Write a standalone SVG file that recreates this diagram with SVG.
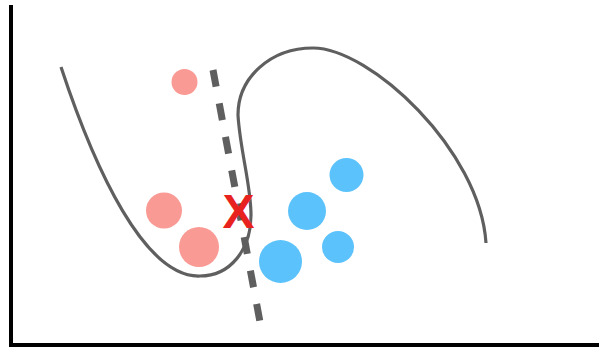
<svg xmlns="http://www.w3.org/2000/svg" width="599" height="352" viewBox="0 0 599 352">
<style>
.axis{stroke:#000;stroke-width:4;fill:none}
.curve{stroke:#5f5f5f;stroke-width:3.2;fill:none;stroke-linecap:butt}
.dash{stroke:#5f5f5f;stroke-width:7;fill:none;stroke-dasharray:17 17}
.pink{fill:#fa9a94}
.blue{fill:#5bc2fc}
.x{font-family:"Liberation Sans",Arial,sans-serif;font-weight:bold;font-size:48px;fill:#e8221e}
</style>
<rect width="599" height="352" fill="#fff"/>
<g id="axes">
<path class="axis" d="M11,5 V345 H599"/>
</g>
<g id="connectors">
<path class="curve" d="M61,67 C95,170 145,278 200,276 C230,276 251,250 251,215 C251,185 240,150 238,115 C238,78 270,48 313,48 C370,48 480,150 486,243"/>
<line class="dash" x1="213" y1="70" x2="260" y2="322"/>
</g>
<g id="pink1"><circle class="pink" cx="184.5" cy="82" r="13"/></g>
<g id="pink2"><circle class="pink" cx="164" cy="210.5" r="18"/></g>
<g id="pink3"><circle class="pink" cx="199" cy="247" r="20"/></g>
<g id="blue1"><circle class="blue" cx="346.5" cy="175" r="17"/></g>
<g id="blue2"><circle class="blue" cx="307" cy="211" r="19"/></g>
<g id="blue3"><circle class="blue" cx="338" cy="247" r="16"/></g>
<g id="blue4"><circle class="blue" cx="280.5" cy="261.5" r="21.5"/></g>
<g id="mark"><text class="x" x="238.5" y="228" text-anchor="middle">X</text></g>
</svg>
